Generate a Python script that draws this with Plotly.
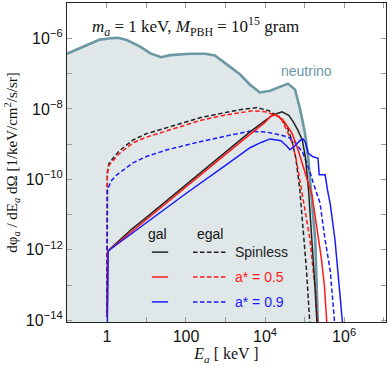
import numpy as np
import plotly.graph_objects as go

# ---------------- data (log10 values) ----------------
nu_logE = [-1.01, -0.6, -0.18, 0.1, 0.28, 0.5, 0.84, 1.1, 1.37, 1.6, 2.1, 2.48, 2.73,
           3.1, 3.37, 3.62, 3.87, 4.13, 4.38, 4.58, 4.76, 4.89, 5.01, 5.09, 5.27, 5.34]
nu_logF = [-6.43, -6.23, -6.03, -5.99, -5.98, -6.04, -6.23, -6.42, -6.53, -6.47, -6.43, -6.43, -6.48,
           -6.79, -7.02, -7.31, -7.53, -7.48, -7.37, -7.28, -7.45, -8.02, -8.68, -9.36, -11.72, -14.2]

gal_spinless_logE = [0.005, 0.02, 0.076, 0.63, 1.0, 2.0, 3.0, 3.62, 4.0, 4.2, 4.43, 4.6, 4.71,
                     4.82, 4.94, 5.02, 5.1, 5.19, 5.26, 5.32]
gal_spinless_logF = [-14.2, -12.05, -11.98, -11.41, -11.08, -10.15, -9.22, -8.65, -8.33, -8.17, -8.08, -8.18, -8.36,
                     -8.58, -8.87, -9.36, -10.3, -11.72, -13.0, -14.2]

gal_a05_logE = [0.005, 0.02, 0.076, 1.0, 2.0, 3.0, 3.62, 4.0, 4.13, 4.25, 4.45, 4.68, 4.81,
                4.89, 5.0, 5.1, 5.19, 5.3, 5.42, 5.5, 5.57]
gal_a05_logF = [-14.2, -12.05, -11.99, -11.13, -10.21, -9.29, -8.72, -8.38, -8.22, -8.16, -8.3, -8.68, -9.07,
                -9.36, -9.75, -10.1, -10.45, -11.3, -12.2, -13.0, -14.2]

gal_a09_logE = [0.01, 0.03, 0.08, 1.0, 2.0, 3.0, 3.62, 3.9, 4.13, 4.4, 4.55, 4.63, 4.75, 4.9,
                4.96, 5.02, 5.09, 5.2, 5.34, 5.37, 5.52, 5.58, 5.65, 5.77, 5.87, 5.97]
gal_a09_logF = [-14.2, -12.05, -11.99, -11.22, -10.4, -9.6, -9.1, -8.95, -8.85, -8.9, -9.05, -9.16, -9.05, -8.88,
                -8.85, -8.95, -9.25, -9.35, -9.4, -9.87, -9.87, -10.3, -10.7, -11.72, -12.9, -14.2]

egal_spinless_logE = [0.0, 0.003, 0.01, 0.05, 0.15, 0.3, 0.66, 1.0, 1.52, 2.0, 2.35, 3.0, 3.37, 3.8,
                      4.1, 4.38, 4.56, 4.68, 4.78, 4.88, 4.96, 5.05, 5.14]
egal_spinless_logF = [-14.2, -10.5, -9.8, -9.55, -9.42, -9.2, -8.88, -8.7, -8.53, -8.37, -8.25, -8.1, -8.02, -7.96,
                      -8.05, -8.25, -8.5, -8.9, -9.4, -10.3, -11.4, -12.6, -14.2]

egal_a05_logE = [0.0, 0.003, 0.01, 0.05, 0.15, 0.3, 0.66, 1.0, 1.52, 2.0, 2.35, 3.0, 3.37, 3.7,
                 4.0, 4.38, 4.55, 4.7, 4.8, 4.92, 5.02, 5.14, 5.2, 5.28, 5.34]
egal_a05_logF = [-14.2, -10.5, -9.85, -9.6, -9.47, -9.28, -8.96, -8.8, -8.62, -8.45, -8.33, -8.17, -8.1, -8.05,
                 -8.08, -8.22, -8.6, -9.0, -9.5, -10.3, -11.0, -11.72, -12.4, -13.2, -14.2]

egal_a09_logE = [0.0, 0.003, 0.015, 0.1, 0.25, 0.66, 1.0, 1.52, 2.0, 2.35, 3.0, 3.37, 3.62, 4.05,
                 4.4, 4.63, 4.8, 4.96, 5.05, 5.14, 5.22, 5.39, 5.52, 5.65, 5.77]
egal_a09_logF = [-14.2, -10.8, -10.3, -10.05, -9.87, -9.53, -9.35, -9.16, -9.02, -8.93, -8.77, -8.68, -8.63, -8.66,
                 -8.74, -8.82, -9.0, -9.25, -9.5, -9.8, -10.1, -10.67, -11.72, -12.6, -14.2]

x_tick_exp = [-1, 0, 1, 2, 3, 4, 5, 6, 7]
x_tick_text = ["", "1", "", "100", "", "10<sup>4</sup>", "", "10<sup>6</sup>", ""]
y_tick_exp = [-14, -13, -12, -11, -10, -9, -8, -7, -6, -5]
y_tick_text = ["10<sup>−14</sup>", "", "10<sup>−12</sup>", "", "10<sup>−10</sup>", "",
               "10<sup>−8</sup>", "", "10<sup>−6</sup>", ""]

legend_labels = ["Spinless", "a* = 0.5", "a* = 0.9"]
colors = ["#222222", "#FF1A1A", "#1A1AFF"]

NU_LINE = "#6B98A2"
NU_FILL = "#DFE7E9"


def p10(a):
    return list(10.0 ** np.asarray(a, dtype=float))


fig = go.Figure()

# neutrino shaded region
fill_x = p10(nu_logE) + [10 ** nu_logE[-1], 10 ** nu_logE[0]]
fill_y = p10(nu_logF) + [1e-16, 1e-16]
fig.add_trace(go.Scatter(x=fill_x, y=fill_y, mode="lines", fill="toself",
                         fillcolor=NU_FILL, line=dict(width=0), hoverinfo="skip",
                         showlegend=False))
fig.add_trace(go.Scatter(x=p10(nu_logE), y=p10(nu_logF), mode="lines",
                         line=dict(color=NU_LINE, width=2.6), showlegend=False))

DASH = "4.5px,2.5px"
for (lx, ly), c in zip([(egal_spinless_logE, egal_spinless_logF),
                        (egal_a05_logE, egal_a05_logF),
                        (egal_a09_logE, egal_a09_logF)], colors):
    fig.add_trace(go.Scatter(x=p10(lx), y=p10(ly), mode="lines",
                             line=dict(color=c, width=1.5, dash=DASH), showlegend=False))

for (lx, ly), c in zip([(gal_spinless_logE, gal_spinless_logF),
                        (gal_a05_logE, gal_a05_logF),
                        (gal_a09_logE, gal_a09_logF)], colors):
    fig.add_trace(go.Scatter(x=p10(lx), y=p10(ly), mode="lines",
                             line=dict(color=c, width=1.5), showlegend=False))

# ---------------- legend drawn by hand ----------------
shapes = []
annotations = []
rows_y = [0.219, 0.141, 0.063]
for ry, c, lab in zip(rows_y, colors, legend_labels):
    shapes.append(dict(type="line", xref="paper", yref="paper", x0=0.266, x1=0.317,
                       y0=ry, y1=ry, line=dict(color=c, width=1.5)))
    shapes.append(dict(type="line", xref="paper", yref="paper", x0=0.395, x1=0.497,
                       y0=ry, y1=ry, line=dict(color=c, width=1.5, dash=DASH)))
    annotations.append(dict(xref="paper", yref="paper", x=0.52, y=ry, text=lab,
                            showarrow=False, xanchor="left", yanchor="middle",
                            font=dict(family="Liberation Sans", size=14, color=c)))
annotations.append(dict(xref="paper", yref="paper", x=0.285, y=0.276, text="gal",
                        showarrow=False, xanchor="center", yanchor="middle",
                        font=dict(family="Liberation Sans", size=14, color="#111")))
annotations.append(dict(xref="paper", yref="paper", x=0.448, y=0.276, text="egal",
                        showarrow=False, xanchor="center", yanchor="middle",
                        font=dict(family="Liberation Sans", size=14, color="#111")))
annotations.append(dict(xref="paper", yref="paper", x=0.752, y=0.787, text="neutrino",
                        showarrow=False, xanchor="center", yanchor="middle",
                        font=dict(family="Liberation Sans", size=14, color=NU_LINE)))
annotations.append(dict(xref="paper", yref="paper", x=0.403, y=0.925,
                        text="<i>m</i><sub><i>a</i></sub> = 1 keV, <i>M</i><sub>PBH</sub> = 10<sup>15</sup> gram",
                        showarrow=False, xanchor="center", yanchor="middle",
                        font=dict(family="Liberation Serif", size=17, color="#111")))

axis_common = dict(type="log", showgrid=False, zeroline=False, showline=True,
                   linecolor="#222", linewidth=1.3, mirror="ticks", ticks="inside",
                   ticklen=5, tickcolor="#9a9a9a", tickwidth=1, automargin=False,
                   tickfont=dict(family="Liberation Sans", size=16, color="#111"))

fig.update_layout(
    width=390, height=370,
    margin=dict(l=67, r=4, t=3, b=48),
    paper_bgcolor="white", plot_bgcolor="white",
    showlegend=False,
    shapes=shapes, annotations=annotations,
    xaxis=dict(axis_common, range=[-1.01, 7.06],
               tickvals=p10(x_tick_exp), ticktext=x_tick_text,
               title=dict(text="<i>E</i><sub><i>a</i></sub> [ keV ]", standoff=2,
                          font=dict(family="Liberation Serif", size=16, color="#111"))),
    yaxis=dict(axis_common, range=[-14.05, -4.99],
               tickvals=p10(y_tick_exp), ticktext=y_tick_text,
               title=dict(text="dφ<sub><i>a</i></sub> / dE<sub><i>a</i></sub> dΩ [1/keV/cm<sup>2</sup>/s/sr]",
                          standoff=4,
                          font=dict(family="Liberation Serif", size=15, color="#111"))),
)

fig.write_html("out.html", config={"displayModeBar": False},
               post_script="document.body.style.margin='0';document.body.style.overflow='hidden';")
